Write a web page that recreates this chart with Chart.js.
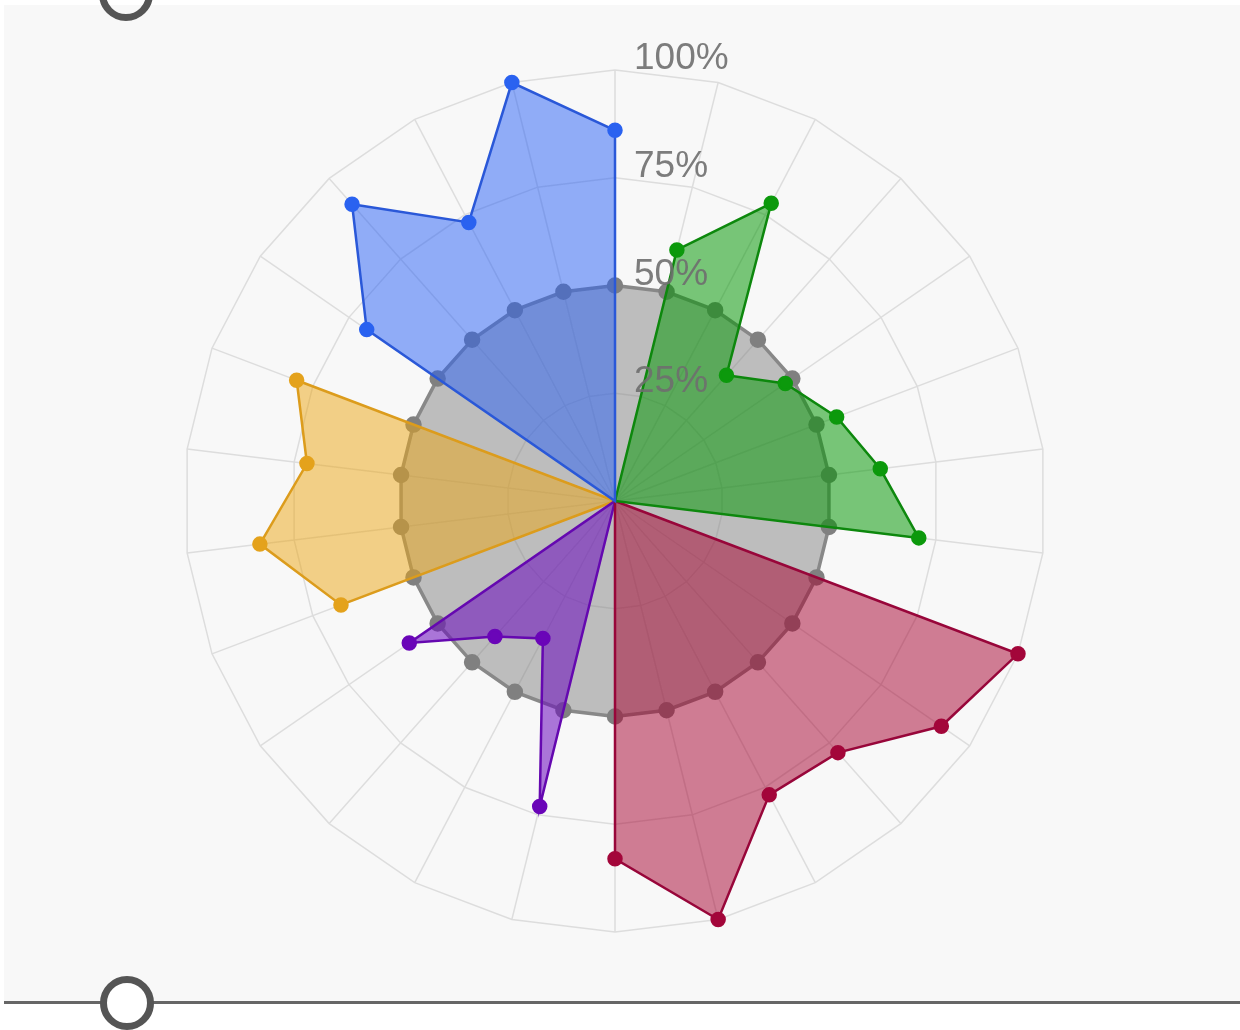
<!DOCTYPE html>
<html>
<head>
<meta charset="utf-8">
<script src="https://cdn.jsdelivr.net/npm/chart.js@4/dist/chart.umd.min.js"></script>
<style>
    html, body { margin: 0; padding: 0; background: #ffffff; }
    body { width: 1240px; height: 1030px; position: relative; overflow: hidden; }
    .panel { position: absolute; left: 4px; top: 5px; width: 1236px; height: 996px; background: #f8f8f8; }
    .rule { position: absolute; left: 4px; top: 1001px; width: 1236px; height: 3px; background: #666666; }
    .handle { position: absolute; width: 40px; height: 40px; border: 7px solid #555555; border-radius: 50%; background: #ffffff; }
    #chart-box { position: absolute; left: 0; top: 0; width: 1240px; height: 1030px; }
</style>
</head>
<body>
<div class="panel"></div>
<div class="rule"></div>
<div class="handle" style="left: 99px; top: -33px; background: transparent;"></div>
<div class="handle" style="left: 100px; top: 976px;"></div>
<div id="chart-box"><canvas id="radar"></canvas></div>

<script>
// 26 спиц, подписи осей не показываются
const spokes = ['1','2','3','4','5','6','7','8','9','10','11','12','13',
                '14','15','16','17','18','19','20','21','22','23','24','25','26'];

const blueValues   = [86, 0, 0, 0, 0, 0, 0, 0, 0, 0, 0, 0, 0, 0, 0, 0, 0, 0, 0, 0, 0, 0, 70, 92, 73, 100];
const greenValues  = [0, 60, 78, 39, 48, 55, 62, 71, 0, 0, 0, 0, 0, 0, 0, 0, 0, 0, 0, 0, 0, 0, 0, 0, 0, 0];
const redValues    = [0, 0, 0, 0, 0, 0, 0, 0, 100, 92, 78, 77, 100, 83, 0, 0, 0, 0, 0, 0, 0, 0, 0, 0, 0, 0];
const purpleValues = [0, 0, 0, 0, 0, 0, 0, 0, 0, 0, 0, 0, 0, 0, 73, 36, 42, 58, 0, 0, 0, 0, 0, 0, 0, 0];
const yellowValues = [0, 0, 0, 0, 0, 0, 0, 0, 0, 0, 0, 0, 0, 0, 0, 0, 0, 0, 68, 83, 72, 79, 0, 0, 0, 0];
const greyValues   = [50, 50, 50, 50, 50, 50, 50, 50, 50, 50, 50, 50, 50,
                      50, 50, 50, 50, 50, 50, 50, 50, 50, 50, 50, 50, 50];

const tickValues = [25, 50, 75, 100];

function series(values, line, fill, dot) {
    return {
        data: values,
        borderColor: line,
        backgroundColor: fill,
        pointBackgroundColor: dot,
        pointBorderColor: dot,
        borderWidth: 2.5,
        fill: true,
        clip: false,
        pointRadius: ctx => ctx.raw === 0 ? 0 : 6.5,
        pointHoverRadius: ctx => ctx.raw === 0 ? 0 : 6.5
    };
}

// подписи процентов справа от вертикальной оси, поверх данных
const tickLabelsPlugin = {
    id: 'tickLabels',
    afterDatasetsDraw(chart) {
        const scale = chart.scales.r;
        const ctx = chart.ctx;
        ctx.save();
        ctx.font = '37px "Liberation Sans", Arial, sans-serif';
        ctx.fillStyle = 'rgba(110, 110, 110, 0.9)';
        ctx.textAlign = 'left';
        ctx.textBaseline = 'alphabetic';
        tickValues.forEach(v => {
            const y = scale.yCenter - scale.getDistanceFromCenterForValue(v);
            ctx.fillText(v + '%', scale.xCenter + 19, y - 1);
        });
        ctx.restore();
    }
};

new Chart(document.getElementById('radar'), {
    type: 'radar',
    data: {
        labels: spokes,
        datasets: [
            series(blueValues,   '#2a58d8', 'rgba(40, 95, 245, 0.5)',  '#2a62f0'),
            series(greenValues,  '#0d880d', 'rgba(0, 150, 0, 0.52)',   '#0c990c'),
            series(redValues,    '#98063a', 'rgba(166, 0, 46, 0.5)',   '#a3063a'),
            series(purpleValues, '#6508b0', 'rgba(105, 10, 190, 0.55)', '#6a05b8'),
            series(yellowValues, '#dc9c1c', 'rgba(236, 166, 20, 0.5)', '#e4a21c'),
            { ...series(greyValues, '#888888', 'rgba(130, 130, 130, 0.5)', '#808080'), borderWidth: 3.5 }
        ]
    },
    options: {
        responsive: true,
        maintainAspectRatio: false,
        animation: false,
        layout: { padding: { left: 184, right: 194, top: 70, bottom: 98 } },
        plugins: {
            legend: { display: false },
            tooltip: { enabled: false }
        },
        scales: {
            r: {
                min: 0,
                max: 100,
                ticks: { display: false, stepSize: 25 },
                pointLabels: { display: false },
                grid: { color: '#dddddd', lineWidth: 1.5 },
                angleLines: { color: '#dddddd', lineWidth: 1.5 }
            }
        }
    },
    plugins: [tickLabelsPlugin]
});
</script>
</body>
</html>
